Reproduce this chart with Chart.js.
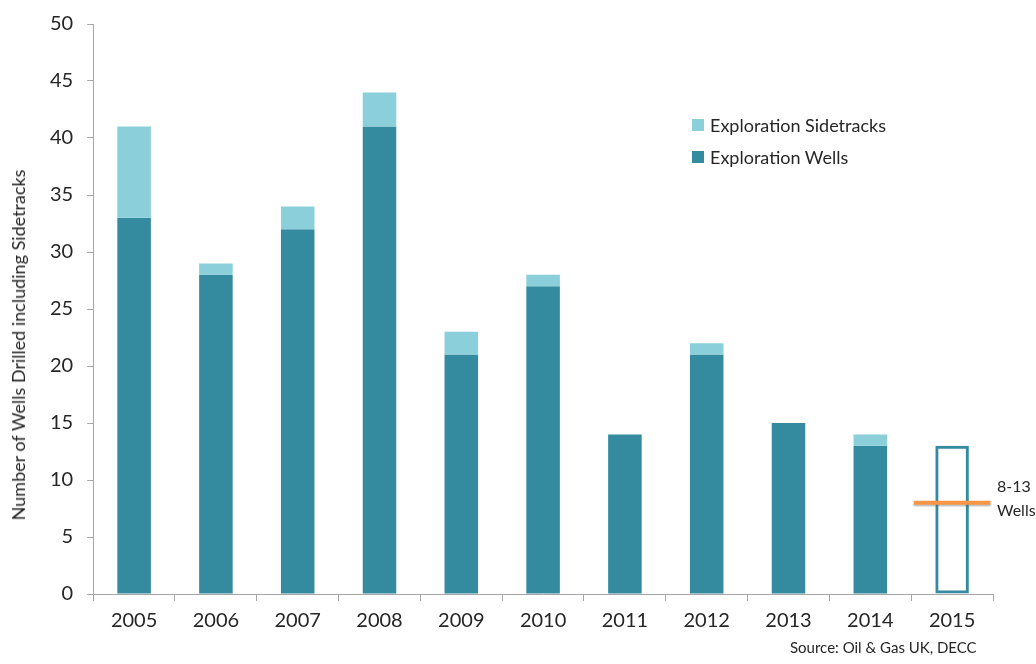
<!DOCTYPE html>
<html>
<head>
  <title>Exploration Wells</title>
  <style>
    body { margin: 0; background: #fff; font-family: Lato, sans-serif; }
    #wrap { position: relative; width: 1036px; height: 664px; }
    #legend { position: absolute; left: 692px; top: 109px; font-size: 18px; color: #262626; }
    #legend div { height: 32px; display: flex; align-items: center; }
    #legend span { display: inline-block; width: 12px; height: 12px; margin-right: 6px; }
    #ytitle { position: absolute; left: 18px; top: 345px; transform: translate(-50%, -50%) rotate(-90deg);
              white-space: nowrap; font-size: 18px; color: #262626; }
    #source { position: absolute; left: 790px; top: 638px; font-size: 15px; color: #262626; }
  </style>
</head>
<body>
<div id="wrap">
  <canvas id="chart" width="1036" height="664"></canvas>
  <div id="legend">
    <div><span style="background:#8ACFDA"></span>Exploration Sidetracks</div>
    <div><span style="background:#348A9E"></span>Exploration Wells</div>
  </div>
  <div id="ytitle">Number of Wells Drilled including Sidetracks</div>
  <div id="source">Source: Oil &amp; Gas UK, DECC</div>
</div>
<script src="https://cdn.jsdelivr.net/npm/chart.js@4"></script>
<script>
const years = ['2005', '2006', '2007', '2008', '2009', '2010', '2011', '2012', '2013', '2014', '2015'];
const wells = [33, 28, 32, 41, 21, 27, 14, 21, 15, 13, null];
const sidetracks = [8, 1, 2, 3, 2, 1, 0, 1, 0, 1, null];
const outlook2015 = [null, null, null, null, null, null, null, null, null, null, 13];
const rangeLow = 8;
const rangeLabel = ['8-13', 'Wells'];

const wellColor = '#348A9E';
const sideColor = '#8ACFDA';

// sidetracks sit on top of the wells bar
const sideBars = wells.map((w, i) => sidetracks[i] ? [w, w + sidetracks[i]] : null);
const lowLine = years.map((y, i) => outlook2015[i] != null ? [rangeLow - 0.17, rangeLow + 0.17] : null);
const lowShadow = years.map((y, i) => outlook2015[i] != null ? [rangeLow - 0.33, rangeLow - 0.1] : null);

const labelPlugin = {
  id: 'rangeLabel',
  afterDatasetsDraw(chart) {
    const { ctx, scales: { y }, chartArea } = chart;
    const py = y.getPixelForValue(rangeLow);
    ctx.save();
    ctx.fillStyle = '#262626';
    ctx.font = '16px Lato, sans-serif';
    ctx.textBaseline = 'middle';
    ctx.fillText(rangeLabel[0], chartArea.right + 4, py - 16);
    ctx.fillText(rangeLabel[1], chartArea.right + 4, py + 8);
    ctx.restore();
  }
};

new Chart(document.getElementById('chart'), {
  type: 'bar',
  data: {
    labels: years,
    datasets: [
      { label: 'Low', data: lowLine, backgroundColor: '#F79646', barPercentage: 0.94 },
      { label: 'Shadow', data: lowShadow, backgroundColor: 'rgba(90,90,90,0.35)', barPercentage: 0.94 },
      { label: 'Exploration Sidetracks', data: sideBars, backgroundColor: sideColor },
      { label: 'Exploration Wells', data: wells, backgroundColor: wellColor },
      { label: '2015', data: outlook2015, backgroundColor: 'rgba(255,255,255,0)', borderColor: wellColor,
        borderWidth: 3, borderSkipped: false }
    ]
  },
  options: {
    responsive: false,
    animation: false,
    datasets: { bar: { categoryPercentage: 1, barPercentage: 0.41, stack: 'a' } },
    layout: { padding: { top: 23, right: 43, bottom: 23, left: 36 } },
    plugins: { legend: { display: false }, tooltip: { enabled: false } },
    scales: {
      x: {
        stacked: true,
        grid: { offset: true, drawOnChartArea: false, drawTicks: true, tickLength: 7, color: '#A6A6A6' },
        border: { color: '#A6A6A6' },
        ticks: { color: '#262626', font: { family: 'Lato', size: 20 }, padding: 8 }
      },
      y: {
        stacked: false,
        min: 0, max: 50,
        ticks: { stepSize: 5, color: '#262626', font: { family: 'Lato', size: 20, lineHeight: 1 }, padding: 14 },
        grid: { drawOnChartArea: false, drawTicks: true, tickLength: 6, color: '#A6A6A6' },
        border: { color: '#A6A6A6' }
      }
    }
  },
  plugins: [labelPlugin]
});
</script>
</body>
</html>
